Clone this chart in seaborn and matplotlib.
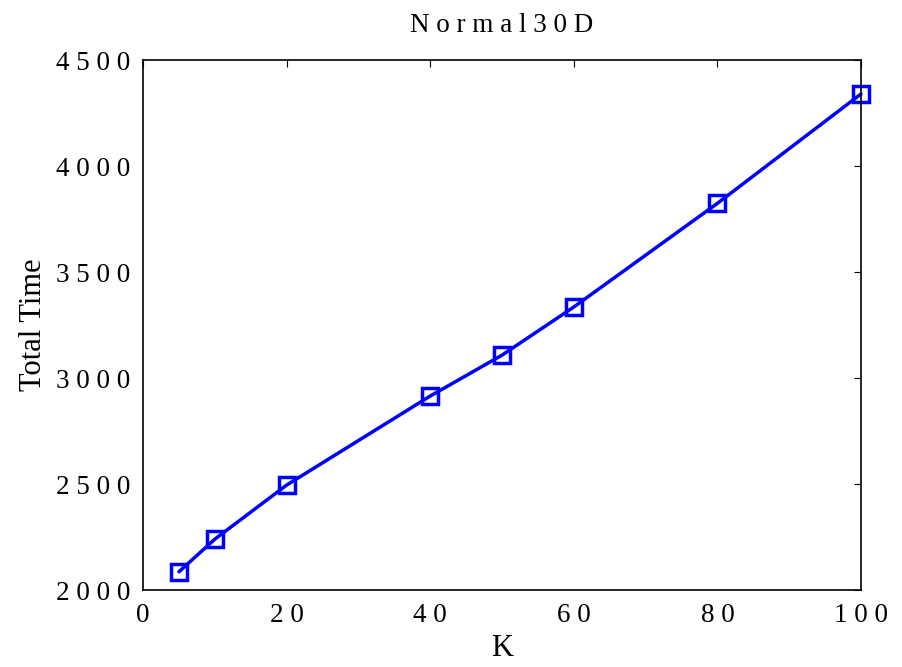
import matplotlib
matplotlib.use("Agg")
import matplotlib.pyplot as plt
import seaborn as sns
import pandas as pd
from matplotlib.ticker import FuncFormatter

k_values = [5, 10, 20, 40, 50, 60, 80, 100]
total_time = [2086, 2240, 2495, 2915, 3108, 3335, 3824, 4340]
x_ticks = [0, 20, 40, 60, 80, 100]
y_ticks = [2000, 2500, 3000, 3500, 4000, 4500]
title = "Normal30D"

sns.set_theme(style="white")
plt.rcParams['font.family'] = ['Liberation Serif', 'DejaVu Serif']
plt.rcParams['text.color'] = 'black'
plt.rcParams['axes.labelcolor'] = 'black'

SP = " "
def spaced(s):
    return SP.join(list(s))

df = pd.DataFrame({"K": k_values, "Total Time": total_time})

fig = plt.figure(figsize=(9.03, 6.67), dpi=100)
ax = fig.add_axes([0.1584, 0.1154, 0.9535 - 0.1584, 0.91 - 0.1154])

sns.lineplot(data=df, x="K", y="Total Time", ax=ax, color="#0000ff",
             linewidth=2.5, marker="s", markersize=11, markerfacecolor="none",
             markeredgecolor="#0000ff", markeredgewidth=2.5, clip_on=False)

ax.set_xlim(0, 100)
ax.set_ylim(2000, 4500)
ax.set_xticks(x_ticks)
ax.set_yticks(y_ticks)
ax.xaxis.set_major_formatter(FuncFormatter(lambda v, p: spaced(str(int(v)))))
ax.yaxis.set_major_formatter(FuncFormatter(lambda v, p: spaced(str(int(v)))))
ax.tick_params(axis="both", which="major", direction="in", length=5, width=0.8,
               top=True, right=True, labelsize=19.5, colors="black", pad=9)
ax.tick_params(axis="x", pad=9)
for s in ax.spines.values():
    s.set_color("black")
    s.set_linewidth(1.2)
    s.set_visible(True)

ax.set_xlabel("K", fontsize=22, labelpad=5, color="black")
ax.set_ylabel("Total Time", fontsize=22, labelpad=6, color="black")
ax.set_title(spaced(title), fontsize=19.5, pad=20, color="black")

fig.savefig("out.png", dpi=100)
